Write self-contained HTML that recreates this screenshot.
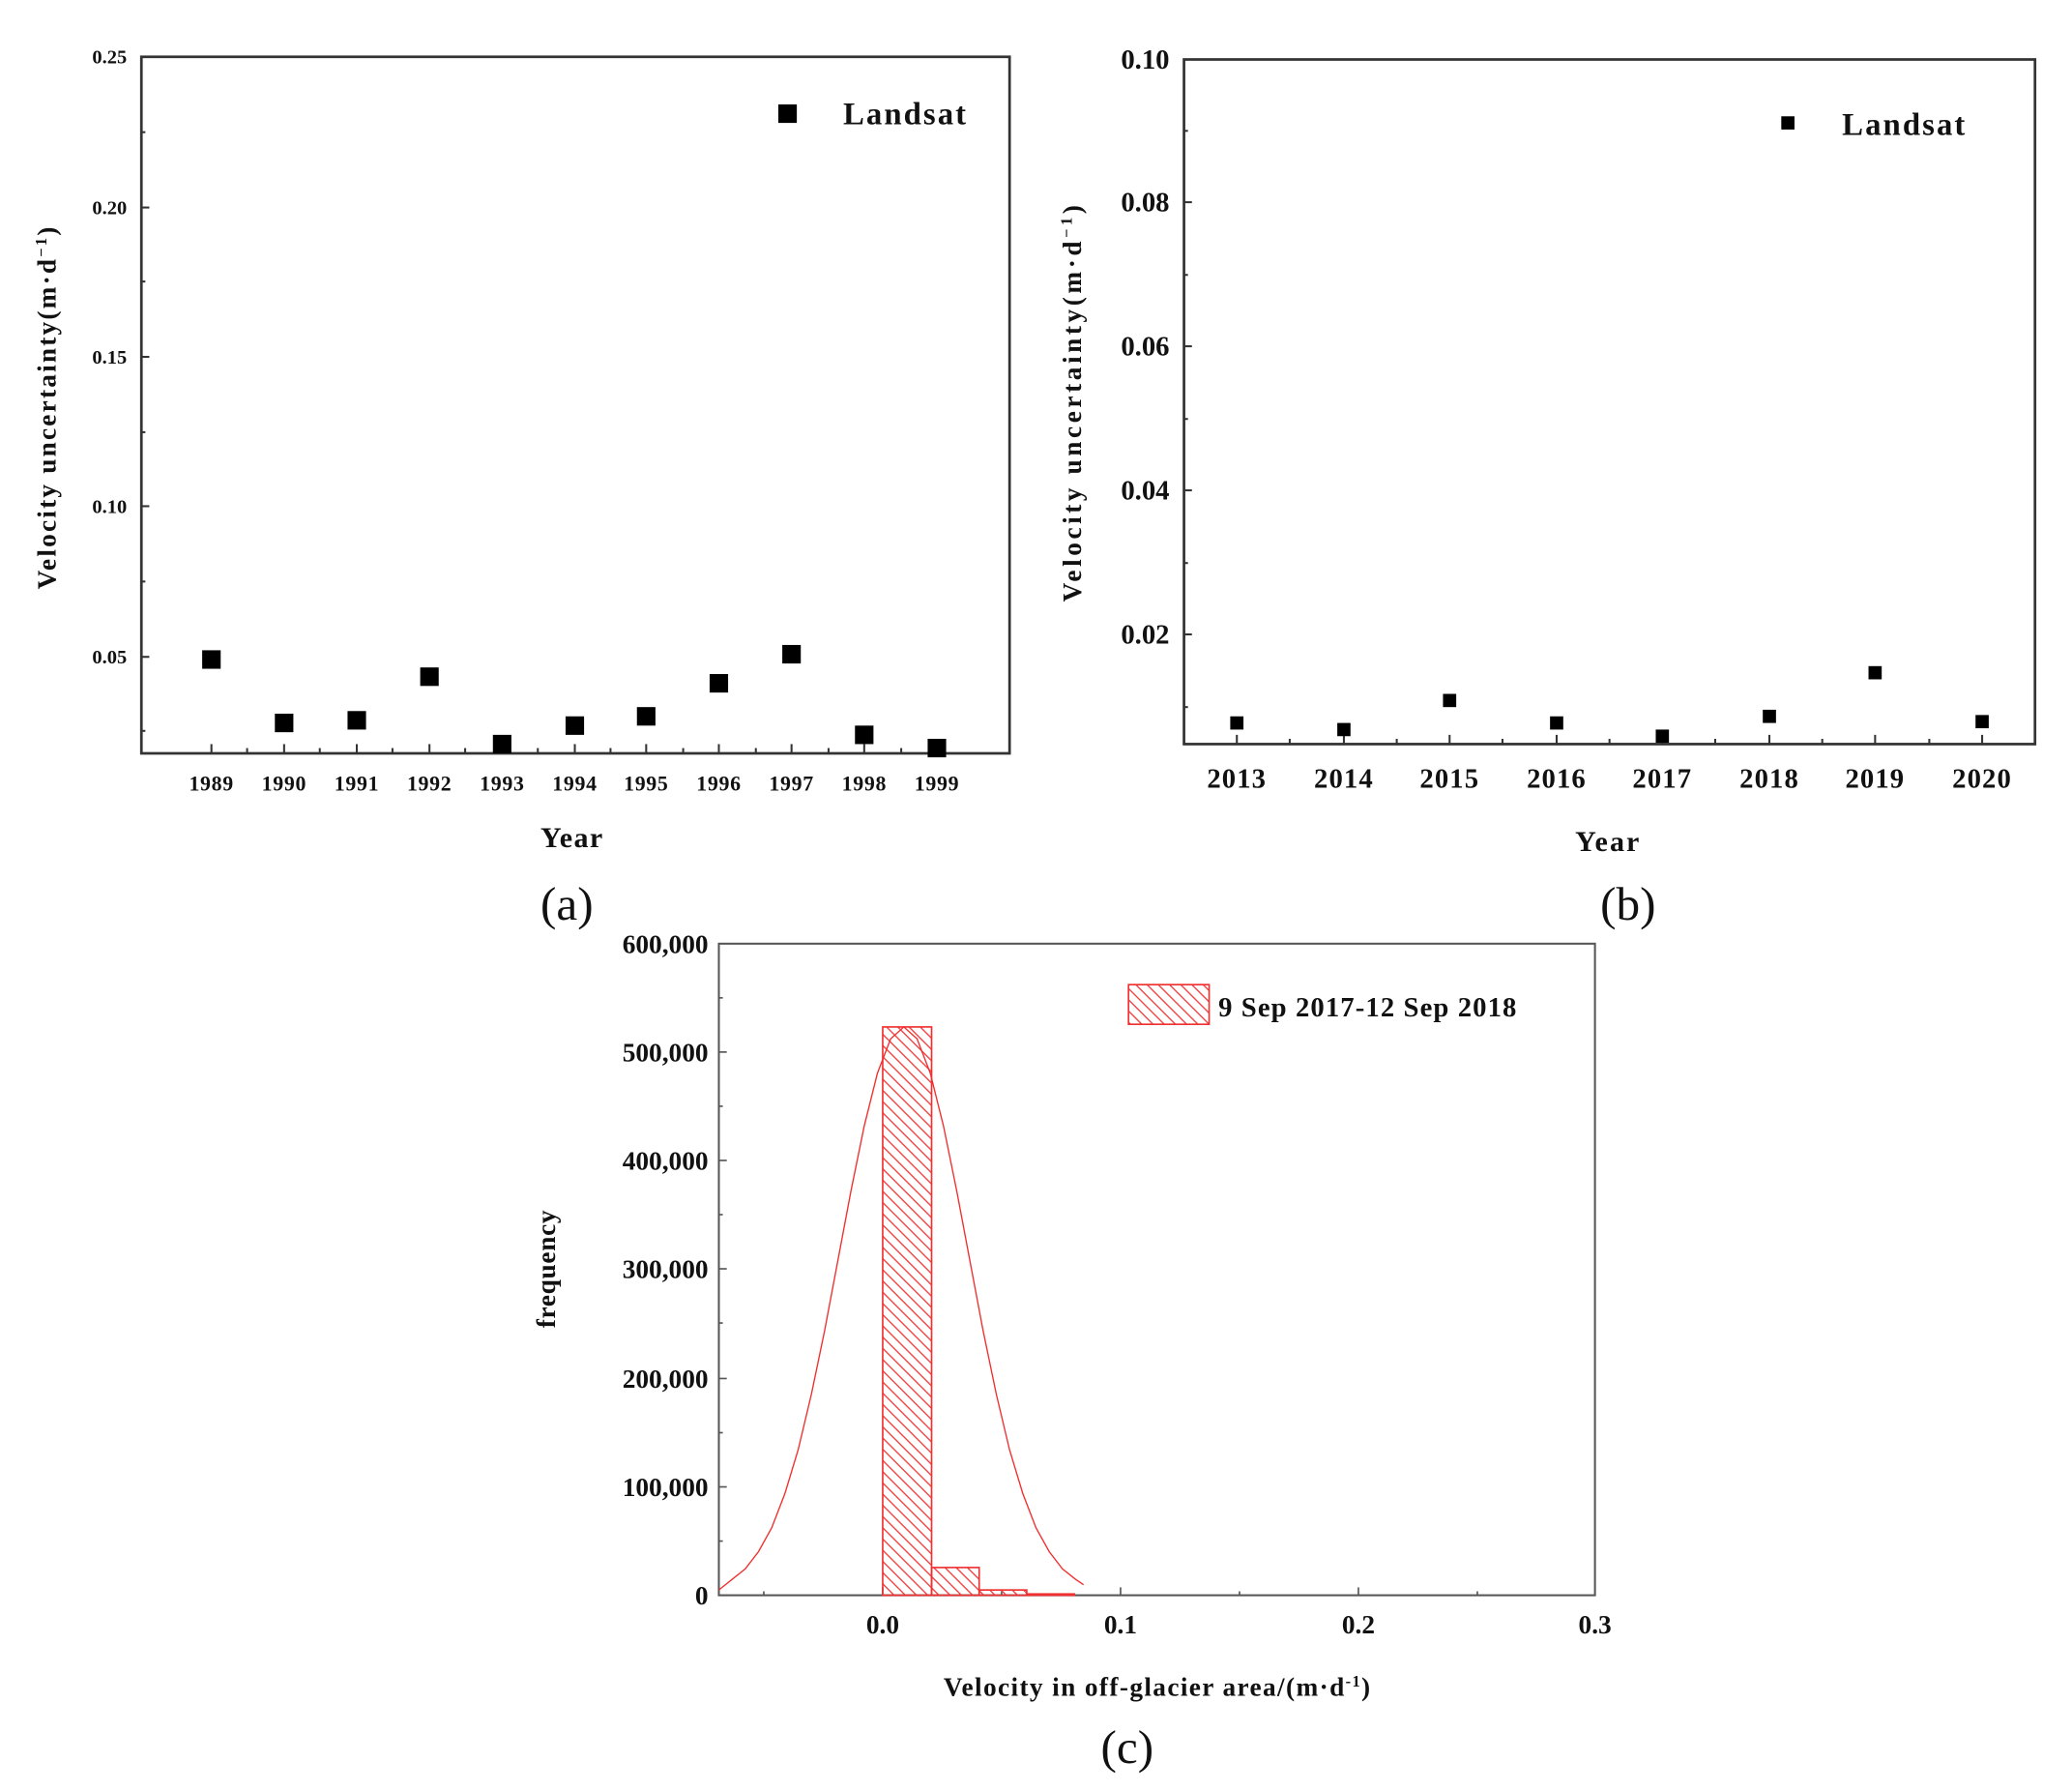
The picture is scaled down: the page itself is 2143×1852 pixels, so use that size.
<!DOCTYPE html>
<html><head><meta charset="utf-8"><style>html,body{margin:0;padding:0;background:#fff}svg{display:block}</style></head>
<body>
<svg width="2143" height="1852" viewBox="0 0 1568 1355.1" preserveAspectRatio="none" xmlns="http://www.w3.org/2000/svg" font-family="'Liberation Serif', serif" font-weight="bold" fill="#111">
<defs>
<pattern id="h" patternUnits="userSpaceOnUse" width="6" height="6" patternTransform="rotate(45)">
<line x1="0" y1="3" x2="6" y2="3" stroke="#f04040" stroke-width="1"/>
</pattern>
</defs>
<!-- Panel a -->
<rect x="107" y="43" width="657" height="527" fill="none" stroke="#333" stroke-width="2"/>
<g stroke="#333" stroke-width="1.5">
<line x1="107" y1="157" x2="113" y2="157"/><line x1="107" y1="270" x2="113" y2="270"/><line x1="107" y1="383" x2="113" y2="383"/><line x1="107" y1="497" x2="113" y2="497"/>
<line x1="107" y1="100" x2="110" y2="100"/><line x1="107" y1="213" x2="110" y2="213"/><line x1="107" y1="327" x2="110" y2="327"/><line x1="107" y1="440" x2="110" y2="440"/><line x1="107" y1="553" x2="110" y2="553"/>
</g>
<g stroke="#333" stroke-width="1.5">
<line x1="160" y1="570" x2="160" y2="563"/><line x1="215" y1="570" x2="215" y2="563"/><line x1="270" y1="570" x2="270" y2="563"/><line x1="325" y1="570" x2="325" y2="563"/><line x1="380" y1="570" x2="380" y2="563"/><line x1="435" y1="570" x2="435" y2="563"/><line x1="489" y1="570" x2="489" y2="563"/><line x1="544" y1="570" x2="544" y2="563"/><line x1="599" y1="570" x2="599" y2="563"/><line x1="654" y1="570" x2="654" y2="563"/><line x1="709" y1="570" x2="709" y2="563"/>
<line x1="187" y1="570" x2="187" y2="566"/><line x1="242" y1="570" x2="242" y2="566"/><line x1="297" y1="570" x2="297" y2="566"/><line x1="352" y1="570" x2="352" y2="566"/><line x1="407" y1="570" x2="407" y2="566"/><line x1="462" y1="570" x2="462" y2="566"/><line x1="517" y1="570" x2="517" y2="566"/><line x1="572" y1="570" x2="572" y2="566"/><line x1="627" y1="570" x2="627" y2="566"/><line x1="682" y1="570" x2="682" y2="566"/>
</g>
<g font-size="15" text-anchor="end">
<text x="96" y="48">0.25</text><text x="96" y="162">0.20</text><text x="96" y="275">0.15</text><text x="96" y="388">0.10</text><text x="96" y="502">0.05</text>
</g>
<g font-size="16" text-anchor="middle" letter-spacing="0.5">
<text x="160" y="598">1989</text><text x="215" y="598">1990</text><text x="270" y="598">1991</text><text x="325" y="598">1992</text><text x="380" y="598">1993</text><text x="435" y="598">1994</text><text x="489" y="598">1995</text><text x="544" y="598">1996</text><text x="599" y="598">1997</text><text x="654" y="598">1998</text><text x="709" y="598">1999</text>
</g>
<text x="433" y="641" font-size="22" text-anchor="middle" letter-spacing="1">Year</text>
<text transform="translate(42,308) rotate(-90)" font-size="20" text-anchor="middle" letter-spacing="1.6">Velocity uncertainty(m·d<tspan dy="-7" font-size="12">−1</tspan><tspan dy="7">)</tspan></text>
<g fill="#000">
<rect x="153" y="492" width="14" height="14"/><rect x="208" y="540" width="14" height="14"/><rect x="263" y="538" width="14" height="14"/><rect x="318" y="505" width="14" height="14"/><rect x="373" y="556" width="14" height="14"/><rect x="428" y="542" width="14" height="14"/><rect x="482" y="535" width="14" height="14"/><rect x="537" y="510" width="14" height="14"/><rect x="592" y="488" width="14" height="14"/><rect x="647" y="549" width="14" height="14"/><rect x="702" y="559" width="14" height="14"/>
<rect x="589" y="79" width="14" height="14"/>
</g>
<text x="638" y="94" font-size="24" letter-spacing="1.5">Landsat</text>
<text x="429" y="696" font-size="36" font-weight="normal" text-anchor="middle">(a)</text>

<!-- Panel b -->
<rect x="896" y="45" width="644" height="518" fill="none" stroke="#333" stroke-width="2"/>
<g stroke="#333" stroke-width="1.5">
<line x1="896" y1="153" x2="902" y2="153"/><line x1="896" y1="262" x2="902" y2="262"/><line x1="896" y1="371" x2="902" y2="371"/><line x1="896" y1="480" x2="902" y2="480"/>
<line x1="896" y1="99" x2="899" y2="99"/><line x1="896" y1="208" x2="899" y2="208"/><line x1="896" y1="317" x2="899" y2="317"/><line x1="896" y1="426" x2="899" y2="426"/><line x1="896" y1="535" x2="899" y2="535"/>
<line x1="936" y1="563" x2="936" y2="556"/><line x1="1017" y1="563" x2="1017" y2="556"/><line x1="1097" y1="563" x2="1097" y2="556"/><line x1="1178" y1="563" x2="1178" y2="556"/><line x1="1258" y1="563" x2="1258" y2="556"/><line x1="1339" y1="563" x2="1339" y2="556"/><line x1="1419" y1="563" x2="1419" y2="556"/><line x1="1500" y1="563" x2="1500" y2="556"/>
<line x1="976" y1="563" x2="976" y2="559"/><line x1="1057" y1="563" x2="1057" y2="559"/><line x1="1137" y1="563" x2="1137" y2="559"/><line x1="1218" y1="563" x2="1218" y2="559"/><line x1="1298" y1="563" x2="1298" y2="559"/><line x1="1379" y1="563" x2="1379" y2="559"/><line x1="1460" y1="563" x2="1460" y2="559"/>
</g>
<g font-size="21" text-anchor="end">
<text x="885" y="52">0.10</text><text x="885" y="160">0.08</text><text x="885" y="269">0.06</text><text x="885" y="378">0.04</text><text x="885" y="487">0.02</text>
</g>
<g font-size="21" text-anchor="middle" letter-spacing="0.8">
<text x="936" y="596">2013</text><text x="1017" y="596">2014</text><text x="1097" y="596">2015</text><text x="1178" y="596">2016</text><text x="1258" y="596">2017</text><text x="1339" y="596">2018</text><text x="1419" y="596">2019</text><text x="1500" y="596">2020</text>
</g>
<text x="1217" y="644" font-size="22" text-anchor="middle" letter-spacing="1.5">Year</text>
<text transform="translate(818,304) rotate(-90)" font-size="20" text-anchor="middle" letter-spacing="2.6">Velocity uncertainty(m·d<tspan dy="-7" font-size="12">−1</tspan><tspan dy="7">)</tspan></text>
<g fill="#000">
<rect x="931" y="542" width="10" height="10"/><rect x="1012" y="547" width="10" height="10"/><rect x="1092" y="525" width="10" height="10"/><rect x="1173" y="542" width="10" height="10"/><rect x="1253" y="552" width="10" height="10"/><rect x="1334" y="537" width="10" height="10"/><rect x="1414" y="504" width="10" height="10"/><rect x="1495" y="541" width="10" height="10"/>
<rect x="1348" y="88" width="10" height="10"/>
</g>
<text x="1394" y="102" font-size="24" letter-spacing="1.5">Landsat</text>
<text x="1232" y="696" font-size="36" font-weight="normal" text-anchor="middle">(b)</text>

<!-- Panel c -->
<rect x="544" y="714" width="663" height="493" fill="none" stroke="#555" stroke-width="1.5"/>
<g stroke="#555" stroke-width="1.2">
<line x1="544" y1="796" x2="550" y2="796"/><line x1="544" y1="878" x2="550" y2="878"/><line x1="544" y1="960" x2="550" y2="960"/><line x1="544" y1="1043" x2="550" y2="1043"/><line x1="544" y1="1125" x2="550" y2="1125"/>
<line x1="544" y1="755" x2="547" y2="755"/><line x1="544" y1="837" x2="547" y2="837"/><line x1="544" y1="919" x2="547" y2="919"/><line x1="544" y1="1001" x2="547" y2="1001"/><line x1="544" y1="1084" x2="547" y2="1084"/><line x1="544" y1="1166" x2="547" y2="1166"/>
<line x1="668" y1="1207" x2="668" y2="1201"/><line x1="848" y1="1207" x2="848" y2="1201"/><line x1="1028" y1="1207" x2="1028" y2="1201"/>
<line x1="578" y1="1207" x2="578" y2="1204"/><line x1="758" y1="1207" x2="758" y2="1204"/><line x1="938" y1="1207" x2="938" y2="1204"/><line x1="1118" y1="1207" x2="1118" y2="1204"/>
</g>
<g font-size="20" text-anchor="end">
<text x="536" y="721">600,000</text><text x="536" y="803">500,000</text><text x="536" y="885">400,000</text><text x="536" y="967">300,000</text><text x="536" y="1050">200,000</text><text x="536" y="1132">100,000</text><text x="536" y="1214">0</text>
</g>
<g font-size="20" text-anchor="middle">
<text x="668" y="1236">0.0</text><text x="848" y="1236">0.1</text><text x="1028" y="1236">0.2</text><text x="1207" y="1236">0.3</text>
</g>
<text x="876" y="1283" font-size="20" text-anchor="middle" letter-spacing="1">Velocity in off-glacier area/(m·d<tspan dy="-7" font-size="12">-1</tspan><tspan dy="7">)</tspan></text>
<text transform="translate(420,960) rotate(-90)" font-size="20" text-anchor="middle" letter-spacing="0.5">frequency</text>
<g stroke="#f03030" stroke-width="1.2" fill="url(#h)">
<rect x="668" y="777" width="37" height="430"/>
<rect x="705" y="1186" width="36" height="21"/>
<rect x="741" y="1203" width="36" height="4"/>
<rect x="777" y="1206" width="36" height="1"/>
</g>
<polyline fill="none" stroke="#f03030" stroke-width="1" points="544,1203 554,1195 564,1187 574,1174 584,1156 594,1130 604,1097 614,1055 624,1007 634,954 644,901 654,852 664,812 674,786 684,777 694,786 704,812 714,852 724,901 734,954 744,1007 754,1055 764,1097 774,1130 784,1156 794,1174 804,1187 814,1195 820,1199"/>
<rect x="854" y="745" width="61" height="30" fill="url(#h)" stroke="#f03030" stroke-width="1.2"/>
<text x="922" y="769" font-size="21" letter-spacing="0.8">9 Sep 2017-12 Sep 2018</text>
<text x="853" y="1334" font-size="36" font-weight="normal" text-anchor="middle">(c)</text>
</svg>
</body></html>
